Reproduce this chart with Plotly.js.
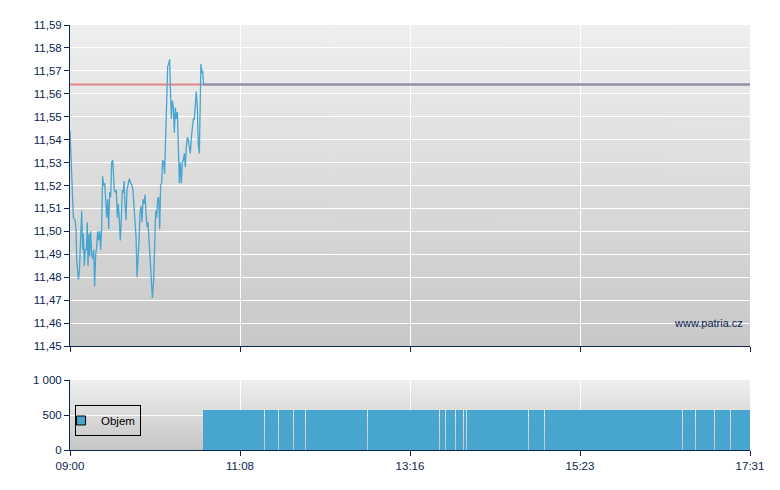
<!DOCTYPE html>
<html>
<head>
<meta charset="utf-8">
<script src="https://cdn.plot.ly/plotly-3.0.1.min.js"></script>
<style>
html,body{margin:0;padding:0;background:#fff;}
#chart{width:780px;height:490px;}
</style>
</head>
<body>
<div id="chart"></div>
<script>
// ---- data (minutes after 09:00) ----
const sessionLength = 511; // 09:00 -> 17:31
const tickMinutes = [0, 127.75, 255.5, 383.25, 511];
const tickLabels = ['09:00', '11:08', '13:16', '15:23', '17:31'];
const priceTicks = [11.45, 11.46, 11.47, 11.48, 11.49, 11.50, 11.51, 11.52, 11.53, 11.54, 11.55, 11.56, 11.57, 11.58, 11.59];
const prevClose = 11.564;

const priceMinutes = [0, 1.5, 2.5, 3.8, 4.5, 5.0, 6.3, 7.0, 8.0, 8.8, 9.5, 10.0, 10.8, 11.5, 12.3, 13.0, 13.5, 14.3, 14.8, 15.5,
  16.3, 17.0, 17.8, 18.5, 19.3, 20.0, 20.8, 21.5, 22.3, 23.0, 23.8, 24.5, 25.3, 26.1, 27.6, 28.3, 29.1, 29.8, 30.6, 31.3,
  32.1, 32.6, 33.3, 34.1, 34.8, 35.6, 36.3, 37.1, 37.8, 38.6, 39.3, 40.1, 40.6, 41.3, 42.1, 42.8, 43.8, 44.6, 45.6, 46.6,
  47.3, 48.1, 48.8, 49.6, 50.4, 51.1, 51.9, 52.6, 53.4, 54.1, 54.9, 55.6, 56.4, 57.1, 57.9, 58.6, 59.4, 60.1, 60.6, 61.4,
  61.9, 62.9, 63.6, 64.4, 65.1, 65.9, 66.6, 67.4, 68.1, 68.9, 69.6, 70.4, 71.1, 71.9, 72.6, 73.4, 74.1, 74.9, 75.4, 76.2,
  76.9, 77.7, 78.4, 79.2, 79.9, 80.7, 81.4, 82.2, 82.9, 83.7, 84.4, 85.2, 85.9, 86.7, 87.4, 88.2, 88.9, 89.7, 90.4, 91.2,
  91.9, 92.7, 93.4, 94.2, 94.9, 95.7, 96.4, 97.2, 97.9, 98.4, 99.2, 99.7, 100.4];
const priceValues = [11.544, 11.520, 11.506, 11.505, 11.501, 11.488, 11.479, 11.482, 11.499, 11.509, 11.492, 11.499, 11.485, 11.492, 11.492, 11.504, 11.485, 11.499, 11.489, 11.500,
  11.490, 11.488, 11.492, 11.476, 11.490, 11.493, 11.500, 11.496, 11.500, 11.492, 11.502, 11.524, 11.520, 11.521, 11.506, 11.514, 11.501, 11.517, 11.515, 11.530,
  11.531, 11.524, 11.518, 11.517, 11.518, 11.506, 11.512, 11.505, 11.496, 11.506, 11.518, 11.517, 11.522, 11.512, 11.505, 11.518, 11.522, 11.523, 11.521, 11.520,
  11.518, 11.511, 11.502, 11.498, 11.480, 11.492, 11.496, 11.508, 11.511, 11.504, 11.514, 11.512, 11.516, 11.508, 11.502, 11.504, 11.496, 11.492, 11.486, 11.476,
  11.471, 11.479, 11.496, 11.509, 11.506, 11.514, 11.515, 11.501, 11.520, 11.521, 11.531, 11.530, 11.525, 11.541, 11.559, 11.572, 11.573, 11.575, 11.563, 11.549,
  11.557, 11.554, 11.543, 11.554, 11.549, 11.552, 11.537, 11.521, 11.530, 11.521, 11.530, 11.531, 11.534, 11.528, 11.537, 11.541, 11.540, 11.537, 11.534, 11.541,
  11.546, 11.549, 11.549, 11.557, 11.561, 11.554, 11.538, 11.534, 11.557, 11.573, 11.569, 11.570, 11.564];

// volume: runs of minutes with trades (start, end in minutes after 09:00)
const volStart = [100, 146.4, 156.9, 168.7, 177.2, 223.8, 277.9, 282.4, 289.9, 296.3, 298.2, 344.8, 356.8, 460.5, 470.3, 484.6, 496.6];
const volEnd   = [145.6, 156.1, 167.9, 176.4, 223.0, 277.1, 281.6, 289.1, 295.5, 297.4, 344.0, 356.0, 459.7, 469.5, 483.8, 495.8, 511];
const volValue = [575, 575, 575, 575, 575, 575, 575, 575, 575, 575, 575, 575, 575, 575, 575, 575, 575];
const volTicks = [0, 500, 1000];

// ---- styling ----
const navy = '#0a2452';
const blue = '#47a5cf';
const fontFam = '"Liberation Sans", Arial, sans-serif';

function gradient(top, bottom) {
  const c = document.createElement('canvas');
  c.width = 4; c.height = 256;
  const g = c.getContext('2d');
  const lg = g.createLinearGradient(0, 0, 0, 256);
  lg.addColorStop(0, top); lg.addColorStop(1, bottom);
  g.fillStyle = lg; g.fillRect(0, 0, 4, 256);
  return c.toDataURL('image/png');
}

const priceDomain = [0.2447, 1];
const volDomain = [0, 0.1647];

const lastMin = priceMinutes[priceMinutes.length - 1];
const lastVal = priceValues[priceValues.length - 1];

const traces = [
  { type: 'scatter', mode: 'lines', x: [0, sessionLength], y: [prevClose, prevClose],
    xaxis: 'x', yaxis: 'y', line: { color: '#e48585', width: 2 }, showlegend: false, hoverinfo: 'skip' },
  { type: 'scatter', mode: 'lines', x: [lastMin, sessionLength], y: [lastVal, lastVal],
    xaxis: 'x', yaxis: 'y', line: { color: '#8290b2', width: 2 }, showlegend: false, hoverinfo: 'skip' },
  { type: 'scatter', mode: 'lines', x: priceMinutes, y: priceValues,
    xaxis: 'x', yaxis: 'y', line: { color: blue, width: 1.3 }, showlegend: false },
  { type: 'bar', x: volStart.map((s, i) => (s + volEnd[i]) / 2), y: volValue,
    width: volStart.map((s, i) => volEnd[i] - s),
    xaxis: 'x2', yaxis: 'y2', marker: { color: blue, line: { width: 0 } }, showlegend: false, name: 'Objem' },
  { type: 'scatter', mode: 'markers', x: [null], y: [null], xaxis: 'x2', yaxis: 'y2', name: 'Objem',
    marker: { symbol: 'square', size: 9, color: blue, line: { color: '#000', width: 1 } }, showlegend: true }
];

const axisCommon = {
  showline: true, linecolor: navy, linewidth: 1,
  ticks: 'outside', tickcolor: navy, ticklen: 5, tickwidth: 1,
  showgrid: true, gridcolor: '#ffffff', gridwidth: 1, zeroline: false,
  tickfont: { family: fontFam, size: 11.5, color: navy }, fixedrange: true
};

const layout = {
  width: 780, height: 490,
  margin: { l: 70, r: 30, t: 25, b: 40 },
  paper_bgcolor: '#ffffff', plot_bgcolor: 'rgba(0,0,0,0)',
  separators: ', ',
  showlegend: true,
  legend: { x: 0.0074, y: 0.1059, xanchor: 'left', yanchor: 'top', bgcolor: 'rgba(0,0,0,0)',
    bordercolor: '#000', borderwidth: 1, font: { family: fontFam, size: 11.5, color: '#000' },
    itemwidth: 30, indentation: -15 },
  xaxis: Object.assign({}, axisCommon, { domain: [0, 1], anchor: 'y', range: [0, sessionLength],
    tickmode: 'array', tickvals: tickMinutes, ticktext: tickLabels, showticklabels: false }),
  yaxis: Object.assign({}, axisCommon, { domain: priceDomain, anchor: 'x', range: [priceTicks[0], priceTicks[priceTicks.length - 1]],
    tickmode: 'array', tickvals: priceTicks, tickformat: '.2f' }),
  xaxis2: Object.assign({}, axisCommon, { domain: [0, 1], anchor: 'y2', range: [0, sessionLength],
    tickmode: 'array', tickvals: tickMinutes, ticktext: tickLabels }),
  yaxis2: Object.assign({}, axisCommon, { domain: volDomain, anchor: 'x2', range: [0, 1000],
    tickmode: 'array', tickvals: volTicks, tickformat: ',d' }),
  images: [
    { source: gradient('#efefef', '#c8c8c8'), xref: 'paper', yref: 'paper', x: 0, y: priceDomain[1],
      sizex: 1, sizey: priceDomain[1] - priceDomain[0], xanchor: 'left', yanchor: 'top', sizing: 'stretch', layer: 'below' },
    { source: gradient('#efefef', '#c6c6c6'), xref: 'paper', yref: 'paper', x: 0, y: volDomain[1],
      sizex: 1, sizey: volDomain[1] - volDomain[0], xanchor: 'left', yanchor: 'top', sizing: 'stretch', layer: 'below' }
  ],
  annotations: [
    { text: 'www.patria.cz', xref: 'paper', yref: 'paper', x: 1, y: 0.2988, xanchor: 'right', yanchor: 'middle',
      xshift: -5, showarrow: false, font: { family: fontFam, size: 11, color: navy } }
  ],
  bargap: 0
};

Plotly.newPlot('chart', traces, layout, { displayModeBar: false, staticPlot: true });
</script>
</body>
</html>
